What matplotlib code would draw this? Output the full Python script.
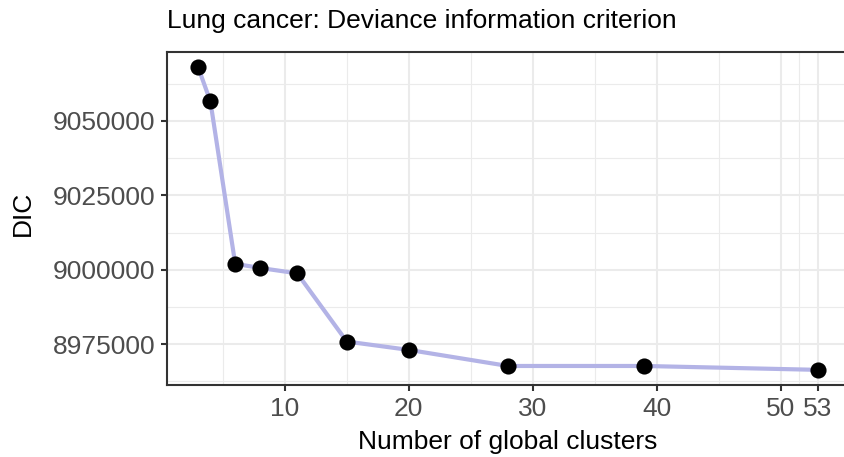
import matplotlib
matplotlib.use("Agg")
import matplotlib.pyplot as plt
from matplotlib.ticker import FixedLocator

plt.rcParams['font.family'] = ['Liberation Sans', 'DejaVu Sans']

# Number of global clusters and the corresponding DIC
clusters = [3, 4, 6, 8, 11, 15, 20, 28, 39, 53]
dic = [9068100, 9056500, 9002000, 9000600, 8998800, 8975900, 8973100, 8967700, 8967700, 8966400]

x_major = [10, 20, 30, 40, 50, 53]
x_minor = [5, 15, 25, 35, 45, 51.5]
y_major = [8975000, 9000000, 9025000, 9050000]
y_minor = [8962500, 8987500, 9012500, 9037500, 9062500]

title = "Lung cancer: Deviance information criterion"
xlabel = "Number of global clusters"
ylabel = "DIC"

W, H = 845, 457
fig = plt.figure(figsize=(W / 100, H / 100), dpi=100)
ax_left, ax_right, ax_top, ax_bottom = 167, 849, 51.7, 385
ax = fig.add_axes([ax_left / W, 1 - ax_bottom / H,
                   (ax_right - ax_left) / W, (ax_bottom - ax_top) / H])

# ggplot-style expansion of the scales
xr = max(clusters) - min(clusters)
yr = max(dic) - min(dic)
ax.set_xlim(min(clusters) - 0.05 * xr, max(clusters) + 0.05 * xr)
ax.set_ylim(min(dic) - 0.05 * yr, max(dic) + 0.05 * yr)

ax.xaxis.set_major_locator(FixedLocator(x_major))
ax.xaxis.set_minor_locator(FixedLocator(x_minor))
ax.yaxis.set_major_locator(FixedLocator(y_major))
ax.yaxis.set_minor_locator(FixedLocator(y_minor))
ax.set_xticklabels([str(v) for v in x_major])
ax.set_yticklabels([str(v) for v in y_major])

ax.grid(which='major', color='#EBEBEB', linewidth=1.5)
ax.grid(which='minor', color='#EBEBEB', linewidth=0.8)
ax.set_axisbelow(True)

ax.plot(clusters, dic, color='#B3B3E6', linewidth=3.0, solid_capstyle='butt', zorder=2)
ax.scatter(clusters, dic, s=135, color='black', zorder=3, linewidths=0)

for s in ax.spines.values():
    s.set_color('#333333')
    s.set_linewidth(1.5)

ax.tick_params(which='major', length=4.3, width=1.5, color='#333333',
               labelsize=19, labelcolor='#4D4D4D', pad=4)
ax.tick_params(which='minor', length=0)

ax.set_xlabel(xlabel, fontsize=19, color='black', va='top')
ax.xaxis.set_label_coords(0.5, (ax_bottom - 430) / (ax_bottom - ax_top))
ax.set_ylabel(ylabel, fontsize=19, color='black', va='center')
ax.yaxis.set_label_coords((23 - ax_left) / (ax_right - ax_left),
                          (ax_bottom - 213) / (ax_bottom - ax_top))
fig.text(ax_left / W, 1 - 28 / H, title, fontsize=19, ha='left', va='baseline')

fig.savefig("out.png", dpi=100)
